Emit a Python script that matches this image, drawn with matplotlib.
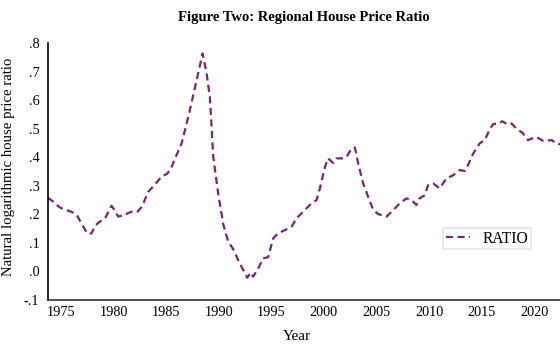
import matplotlib.pyplot as plt
import numpy as np

plt.rcParams['font.family'] = ['Liberation Serif', 'DejaVu Serif']

# ratio series (decimal year, value)
years = [1973.75, 1974.25, 1974.5, 1975.0, 1975.5, 1976.0, 1976.5, 1977.0, 1977.5, 1977.9,
         1978.25, 1978.6, 1979.2, 1979.8, 1980.0, 1980.45, 1981.0, 1981.5, 1981.9, 1982.3,
         1982.7, 1983.3, 1983.95, 1984.6, 1985.05, 1985.4, 1985.84, 1986.47, 1986.95, 1987.4,
         1987.9, 1988.47, 1988.85, 1989.16, 1989.48, 1989.95, 1990.43, 1990.9, 1991.38, 1991.85,
         1992.33, 1992.71, 1993.03, 1993.28, 1993.76, 1994.23, 1994.7, 1995.18, 1995.66, 1996.3,
         1996.93, 1997.4, 1998.03, 1998.67, 1999.3, 1999.62, 2000.1, 2000.4, 2000.88, 2001.2,
         2001.83, 2002.16, 2002.63, 2002.95, 2003.26, 2003.74, 2004.2, 2004.7, 2005.16, 2005.96,
         2006.6, 2007.2, 2007.86, 2008.33, 2008.8, 2009.1, 2009.6, 2009.9, 2010.4, 2011.0,
         2011.66, 2012.3, 2012.9, 2013.4, 2013.7, 2014.2, 2014.8, 2015.3, 2015.8, 2016.1,
         2016.6, 2016.96, 2017.4, 2017.85, 2018.3, 2018.9, 2019.4, 2020.2, 2020.85, 2021.65,
         2022.1, 2022.5]
ratio = [0.258, 0.245, 0.235, 0.222, 0.215, 0.209, 0.198, 0.165, 0.133, 0.133,
         0.160, 0.172, 0.186, 0.230, 0.220, 0.192, 0.198, 0.206, 0.212, 0.210,
         0.227, 0.279, 0.305, 0.334, 0.341, 0.355, 0.395, 0.448, 0.518, 0.588,
         0.670, 0.763, 0.693, 0.611, 0.401, 0.273, 0.165, 0.105, 0.078, 0.040,
         0.005, -0.022, -0.004, -0.018, 0.011, 0.046, 0.050, 0.116, 0.134, 0.145,
         0.157, 0.186, 0.209, 0.233, 0.250, 0.291, 0.366, 0.396, 0.380, 0.396,
         0.396, 0.401, 0.431, 0.434, 0.378, 0.308, 0.262, 0.215, 0.201, 0.192,
         0.215, 0.238, 0.256, 0.250, 0.233, 0.256, 0.267, 0.302, 0.308, 0.291,
         0.326, 0.337, 0.355, 0.352, 0.372, 0.413, 0.448, 0.460, 0.500, 0.516,
         0.518, 0.526, 0.516, 0.518, 0.500, 0.485, 0.460, 0.471, 0.457, 0.460,
         0.448, 0.445]

xticks = [1975, 1980, 1985, 1990, 1995, 2000, 2005, 2010, 2015, 2020]
yticks = [-0.1, 0.0, 0.1, 0.2, 0.3, 0.4, 0.5, 0.6, 0.7, 0.8]
ytick_labels = ['-.1', '.0', '.1', '.2', '.3', '.4', '.5', '.6', '.7', '.8']

fig = plt.figure(figsize=(5.6, 3.45), dpi=100)
ax = fig.add_axes([0.085, 0.1304, 0.915, 0.745])

ax.plot(years, ratio, color='#772670', linewidth=1.6, linestyle='--',
        dashes=(3.2, 2.0), label='RATIO')

ax.set_xlim(1973.73, 2022.45)
ax.set_ylim(-0.1, 0.8)
ax.set_xticks(xticks)
ax.set_yticks(yticks)
ax.set_yticklabels(ytick_labels)
ax.tick_params(length=0, labelsize=10.3)
ax.tick_params(axis='y', pad=6)
ax.tick_params(axis='x', pad=4)

ax.spines['top'].set_visible(False)
ax.spines['right'].set_visible(False)
ax.spines['left'].set_linewidth(1.2)
ax.spines['bottom'].set_linewidth(1.2)
ax.spines['bottom'].set_color('#333333')

ax.set_xlabel('Year', fontsize=11)
ax.xaxis.set_label_coords(0.487, -0.115)
ax.set_ylabel('Natural logarithmic house price ratio', fontsize=10.6)
ax.yaxis.set_label_coords(-0.064, 0.518)
ax.set_title('Figure Two: Regional House Price Ratio', fontsize=10.5,
             fontweight='bold', pad=16)

leg = ax.legend(loc='lower left', bbox_to_anchor=(0.772, 0.198), fontsize=11.2,
                frameon=True, fancybox=False, handlelength=1.6, borderpad=0.15,
                handletextpad=0.8, borderaxespad=0)
leg.get_frame().set_edgecolor('#dddddd')
leg.get_frame().set_linewidth(1.2)

fig.savefig('out.png', dpi=100)
